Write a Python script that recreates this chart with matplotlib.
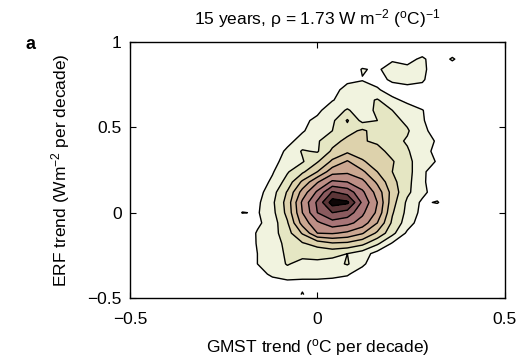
import numpy as np
import matplotlib
matplotlib.use("Agg")
import matplotlib.pyplot as plt

plt.rcParams['font.family'] = ['Liberation Sans', 'DejaVu Sans']
plt.rcParams['mathtext.fontset'] = 'custom'
plt.rcParams['mathtext.rm'] = 'Liberation Sans'
plt.rcParams['mathtext.it'] = 'Liberation Sans:italic'

# grid of bin centres (GMST trend, ERF trend)
gmst_bins = [-0.24, -0.20, -0.16, -0.12, -0.08, -0.04, 0.00, 0.04, 0.08,
             0.12, 0.16, 0.20, 0.24, 0.28, 0.32, 0.36, 0.40]
erf_bins = [0.96, 0.90, 0.84, 0.78, 0.72, 0.66, 0.60, 0.54, 0.48, 0.42,
            0.36, 0.30, 0.24, 0.18, 0.12, 0.06, 0.00, -0.06, -0.12, -0.18,
            -0.24, -0.30, -0.36, -0.42, -0.48]

# relative density (rows follow erf_bins, top to bottom)
density = [
    [0, 0, 0, 0, 0, 0, 0, 0, 0, 0, 0, 0, 0, 0, 0, 0, 0],
    [0, 0, 0, 0, 0, 0, 0, 0, 0, 0, 0, 0.8, 0.5, 1.3, 0, 1.2, 0],
    [0, 0, 0, 0, 0, 0, 0, 0, 0, 1.1, 0.8, 1.6, 1.4, 1.4, 0, 0, 0],
    [0, 0, 0, 0, 0, 0, 0, 0, 0.8, 0.95, 0.7, 1.15, 1.1, 1.2, 0, 0, 0],
    [0, 0, 0, 0, 0, 0, 0, 0.7, 1.3, 1.4, 1.1, 0.6, 0.9, 0.5, 0, 0, 0],
    [0, 0, 0, 0, 0, 0, 0.6, 0.95, 1.4, 1.6, 2.1, 1.2, 0.8, 0.3, 0, 0, 0],
    [0, 0, 0, 0, 0, 0.4, 0.8, 1.5, 2.1, 1.5, 2.2, 2.0, 1.4, 1.05, 0.3, 0, 0],
    [0, 0, 0, 0, 0.3, 0.8, 1.2, 1.8, 3.1, 1.7, 2.0, 2.3, 1.8, 1.1, 0.4, 0, 0],
    [0, 0, 0, 0, 0.5, 0.9, 1.5, 2.0, 2.6, 3.2, 2.5, 2.2, 2.1, 1.3, 0.5, 0, 0],
    [0, 0, 0, 0.2, 0.7, 1.4, 1.9, 2.6, 3.3, 3.1, 2.8, 2.3, 1.9, 1.4, 0.9, 0, 0],
    [0, 0, 0, 0.4, 1.2, 2.1, 1.9, 3.2, 3.8, 3.6, 3.4, 2.6, 2.1, 1.4, 0.7, 0, 0],
    [0, 0, 0, 0.6, 1.5, 1.9, 2.9, 4.2, 5.1, 4.1, 3.6, 3.1, 2.2, 1.6, 0.9, 0, 0],
    [0, 0, 0, 0.9, 1.9, 2.8, 4.0, 5.6, 5.8, 5.2, 4.0, 3.0, 2.4, 1.2, 0.4, 0, 0],
    [0, 0, 0.4, 1.2, 2.4, 4.2, 5.9, 7.2, 7.0, 6.3, 4.8, 3.3, 2.3, 1.2, 0.3, 0, 0],
    [0, 0, 0.6, 1.6, 3.1, 5.4, 7.2, 9.1, 8.6, 7.2, 5.6, 3.6, 2.2, 1.3, 0.4, 0, 0],
    [0, 0.3, 0.8, 1.8, 3.4, 6.2, 8.2, 10.5, 10.2, 7.8, 6.0, 3.4, 1.8, 0.8, 1.1, 0, 0],
    [0, 1.05, 0.9, 1.7, 3.3, 6.0, 8.0, 9.0, 8.6, 7.2, 5.8, 3.1, 1.7, 0.7, 0, 0, 0],
    [0, 0, 0.8, 1.5, 2.9, 5.4, 6.8, 7.6, 7.3, 6.6, 5.0, 2.8, 1.5, 0.4, 0, 0, 0],
    [0, 0.2, 1.1, 1.6, 2.6, 4.1, 6.0, 6.1, 5.8, 5.1, 3.8, 2.3, 0.8, 0, 0, 0, 0],
    [0, 0, 1.1, 1.5, 2.3, 2.9, 3.4, 3.9, 3.8, 3.3, 2.2, 0.9, 0, 0, 0, 0, 0],
    [0, 0, 1.0, 1.4, 2.2, 2.4, 2.3, 2.3, 2.0, 1.5, 0.6, 0, 0, 0, 0, 0, 0],
    [0, 0, 1.0, 1.3, 2.1, 1.6, 1.8, 1.6, 2.1, 1.2, 0.3, 0, 0, 0, 0, 0, 0],
    [0, 0, 0.6, 1.2, 1.4, 1.3, 1.3, 1.2, 1.1, 0.5, 0, 0, 0, 0, 0, 0, 0],
    [0, 0, 0, 0.5, 0.7, 0.7, 0.7, 0.7, 0.5, 0, 0, 0, 0, 0, 0, 0, 0],
    [0, 0, 0, 0, 0, 1.1, 0, 0, 0, 0, 0, 0, 0, 0, 0, 0, 0],
]

levels = [1, 2, 3, 4, 5, 6, 7, 8, 9, 10, 100]
band_colors = ['#f1f3df', '#e5e6c3', '#ddd2ac', '#d6bf9e', '#cba791',
               '#bd8f86', '#a87577', '#8a5a5e', '#5c3638', '#0d0606']

x_ticks = [-0.5, 0, 0.5]
y_ticks = [-0.5, 0, 0.5, 1]

X, Y = np.meshgrid(gmst_bins, erf_bins)
Z = np.array(density)

fig = plt.figure(figsize=(5.22, 3.61), dpi=100)
ax = fig.add_axes([0.249, 0.1745, 0.718, 0.709])

ax.contourf(X, Y, Z, levels=levels, colors=band_colors)
ax.contour(X, Y, Z, levels=levels[:-1], colors='k', linewidths=1.0)

ax.set_xlim(-0.5, 0.5)
ax.set_ylim(-0.5, 1)
ax.set_xticks(x_ticks)
ax.set_xticklabels(['\u22120.5', '0', '0.5'])
ax.set_yticks(y_ticks)
ax.set_yticklabels(['\u22120.5', '0', '0.5', '1'])
ax.tick_params(direction='in', top=True, right=True, length=4, width=0.8,
               labelsize=12.5)
ax.tick_params(axis='x', pad=10)
ax.tick_params(axis='y', pad=6)
for s in ax.spines.values():
    s.set_linewidth(1.0)

ax.set_title('15 years, \u03c1 = 1.73 W m$^{-2}$ ($^{\\rm o}$C)$^{-1}$',
             fontsize=12.5, pad=13)
ax.set_xlabel('GMST trend ($^{\\rm o}$C per decade)', fontsize=12.5, labelpad=7)
ax.set_ylabel('ERF trend (Wm$^{-2}$ per decade)', fontsize=12.5, labelpad=11)
fig.text(0.048, 0.865, 'a', fontsize=13, fontweight='bold')

fig.savefig('out.png', dpi=100)
